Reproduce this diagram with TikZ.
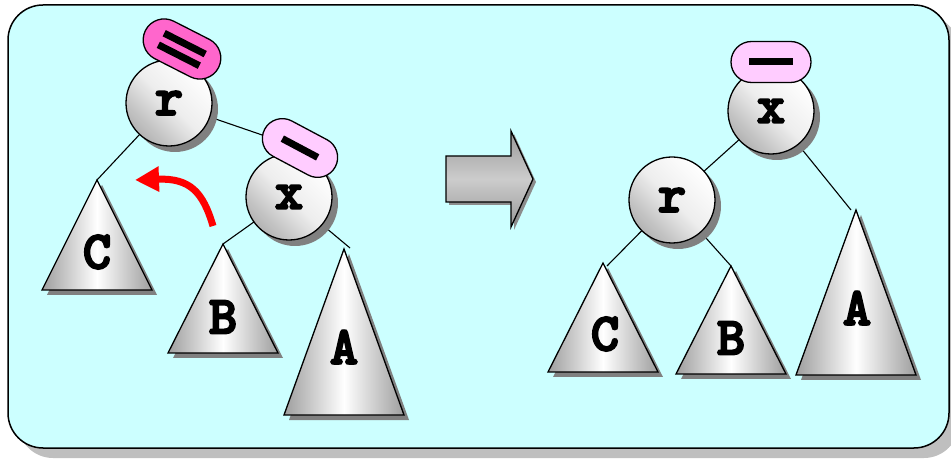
\documentclass[tikz,border=0pt]{standalone}
\usepackage{fontspec}
\newfontfamily\labfont{lmmonolt10-bold.otf}[RawFeature={embolden=3.5}]
\usetikzlibrary{shapes.misc,shadows,arrows.meta}
\definecolor{panelbg}{HTML}{CCFFFF}
\definecolor{hotpink}{HTML}{FF66CC}
\definecolor{lightpink}{HTML}{FFCCFF}
\tikzset{
  nodecirc/.style={circle, draw, line width=1.3pt, minimum size=86pt, inner sep=0pt,
    shading=axis, top color=white, bottom color=black!30, middle color=black!7, shading angle=-45,
    drop shadow={shadow xshift=6pt, shadow yshift=-6pt, fill=black!50, opacity=1},
    font=\labfont\fontsize{54}{54}\selectfont},
  trilabel/.style={font=\labfont\fontsize{54}{54}\selectfont, inner sep=0pt},
  tri/.style={draw, line width=1.3pt, left color=black!38, right color=black!38, middle color=white},
  trishadow/.style={fill=black!50},
  badge/.style={rounded rectangle, draw, line width=1.3pt, minimum width=82pt, minimum height=42pt, inner sep=0pt},
  bar/.style={line width=7pt},
  edge/.style={line width=1.1pt},
}
\newcommand{\subtree}[5]{% name, apex x, apex y, half width, height
  \fill[trishadow] (#2+5,#3+5) -- (#2-#4+5,#3+#5+5) -- (#2+#4+5,#3+#5+5) -- cycle;
  \shade[tri] (#2,#3) -- (#2-#4,#3+#5) -- (#2+#4,#3+#5) -- cycle;
  \coordinate (#1) at (#2,#3);
}
\begin{document}
\begin{tikzpicture}[x=1pt,y=-1pt]
\useasboundingbox (0,0) rectangle (951,462);
% panel
\fill[black!25, rounded corners=35pt] (18,15) rectangle (959,458);
\draw[line width=1.5pt, fill=panelbg, rounded corners=35pt] (8,5) rectangle (949,448);

% ---------- left tree ----------
\subtree{Capex}{97}{180}{55}{110}
\subtree{Bapex}{223}{244}{55}{109}
\subtree{Aapex}{344}{249}{60}{166}
\node[trilabel] (Clab) at (97,252) {C};
\node[trilabel] (Blab) at (223,317) {B};
\node[trilabel] (Alab) at (344,347) {A};

\coordinate (xbc) at (300,148);
\draw[edge] (169,103) -- (Capex);
\draw[edge] (169,103) -- (xbc);
\draw[edge] (289,197) -- (Bapex);
\draw[edge] (289,197) -- ([xshift=6pt,yshift=1pt]Aapex);

\node[nodecirc] (r) at (169,103) {r};
\node[nodecirc] (x) at (289,197) {x};

\node[badge, fill=hotpink, rotate=-27] (rb) at (182,49) {};
\begin{scope}[shift={(182,49)}, rotate=-27]
  \draw[bar] (-23,-6) -- (23,-6);
  \draw[bar] (-23,7) -- (23,7);
\end{scope}
\node[badge, fill=lightpink, rotate=-28, minimum width=80pt, minimum height=40pt] (xb) at (xbc) {};
\begin{scope}[shift={(xbc)}, rotate=-28]
  \draw[bar] (-20,0) -- (20,0);
\end{scope}

% red rotation arrow
\coordinate (rs) at (213,226);
\coordinate (re) at (135,180);
\draw[red, line width=7pt, -{Triangle[length=24pt,width=24pt]}]
  (rs) .. controls (203,192) and (190,178) .. (re);

% big arrow
\fill[black!45] (449,159) -- (514,159) -- (514,134) -- (536,182) -- (514,230) -- (514,205) -- (449,205) -- cycle;
\shade[draw, line width=1.3pt, top color=black!40, bottom color=black!40, middle color=black!20]
  (446,156) -- (511,156) -- (511,131) -- (533,179) -- (511,227) -- (511,202) -- (446,202) -- cycle;

% ---------- right tree ----------
\subtree{C2apex}{603}{263}{55}{109}
\subtree{B2apex}{731}{266}{55}{108}
\subtree{A2apex}{856}{210}{60}{165}
\node[trilabel] (C2lab) at (605,334) {C};
\node[trilabel] (B2lab) at (731,338) {B};
\node[trilabel] (A2lab) at (857,308) {A};

\draw[edge] (771,111) -- (672,200);
\draw[edge] (771,111) -- ([xshift=-5pt]A2apex);
\draw[edge] (672,200) -- ([xshift=4pt,yshift=-3pt]C2apex);
\draw[edge] (672,200) -- (B2apex);

\node[nodecirc] (x2) at (771,111) {x};
\node[nodecirc] (r2) at (672,200) {r};

\node[badge, fill=lightpink, minimum width=80pt, minimum height=41pt] (x2b) at (771,62) {};
\draw[bar] ([xshift=-22pt]x2b.center) -- ([xshift=22pt]x2b.center);
\end{tikzpicture}
\end{document}
